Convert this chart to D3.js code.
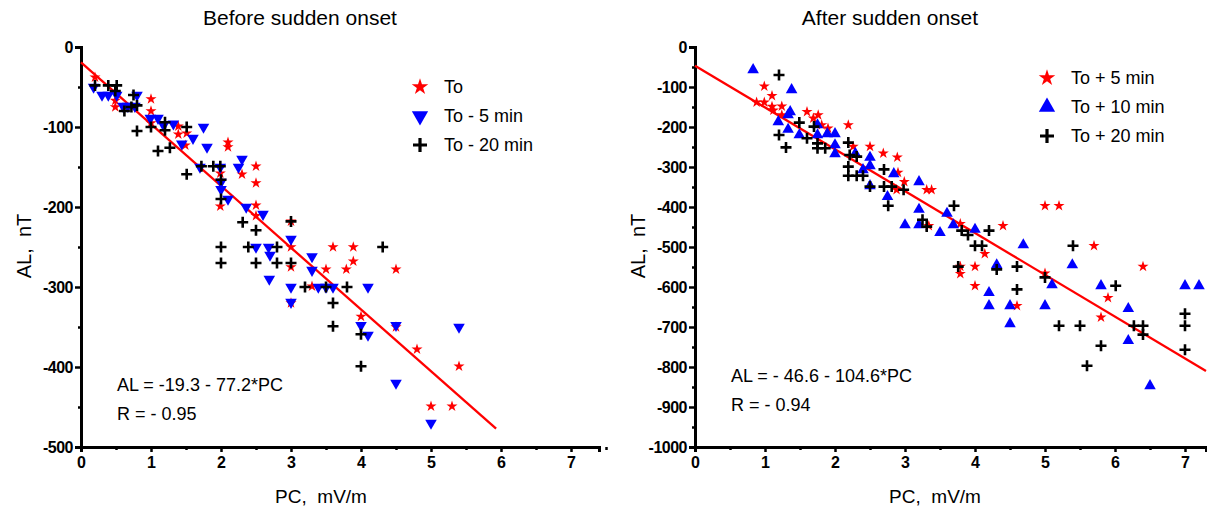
<!DOCTYPE html>
<html>
<head>
<meta charset="utf-8">
<script src="https://cdn.jsdelivr.net/npm/d3@7"></script>
<style>
  body { margin: 0; background: #fff; }
  text { font-family: Arial, "Liberation Sans", sans-serif; white-space: pre; }
</style>
</head>
<body>
<div id="root"></div>
<script>
// PC (mV/m), AL (nT) pairs
var beforeTo = [
  [0.2, -38], [0.49, -67], [0.49, -75], [1.0, -65], [1.0, -80], [1.0, -95],
  [1.39, -99], [1.39, -109], [1.51, -108], [1.49, -123], [2.1, -119], [2.1, -125],
  [1.99, -158], [1.99, -199], [2.3, -159], [2.5, -149], [2.5, -170], [2.5, -198],
  [2.5, -211], [3.0, -218], [3.0, -250], [3.0, -275], [3.6, -250], [3.89, -250],
  [3.89, -268], [3.5, -278], [3.79, -278], [4.5, -278], [3.3, -299], [3.0, -320],
  [4.0, -337], [4.5, -350], [4.8, -378], [5.4, -399], [5.0, -449], [5.3, -449]
]
var beforeTo5 = [
  [0.18, -50], [0.3, -60], [0.39, -60], [0.51, -60], [0.6, -74], [0.67, -74],
  [0.77, -74], [0.8, -60], [0.99, -89], [1.1, -89], [1.18, -98], [1.32, -96],
  [1.44, -121], [1.6, -114], [1.75, -100], [1.8, -125], [1.7, -150], [1.99, -150],
  [2.0, -169], [2.0, -178], [2.1, -190], [2.25, -150], [2.3, -140], [2.36, -200],
  [2.6, -209], [3.0, -240], [2.5, -250], [2.68, -250], [2.7, -260], [2.69, -290],
  [3.3, -262], [3.3, -279], [3.0, -300], [3.39, -300], [3.5, -300], [3.6, -300],
  [4.1, -300], [3.0, -319], [4.0, -348], [4.1, -360], [4.5, -348], [5.4, -350],
  [4.5, -420], [5.0, -470]
]
var beforeTo20 = [
  [0.2, -48], [0.39, -48], [0.51, -48], [0.49, -55], [0.62, -80], [0.75, -60],
  [0.72, -75], [0.8, -73], [0.8, -105], [1.0, -100], [1.2, -94], [1.2, -104],
  [1.1, -130], [1.27, -126], [1.51, -100], [1.51, -159], [1.72, -149], [1.89, -149],
  [1.99, -149], [2.0, -166], [2.0, -190], [2.31, -219], [2.5, -229], [2.0, -250],
  [2.39, -250], [2.8, -250], [2.0, -270], [2.5, -270], [2.8, -270], [3.0, -270],
  [3.0, -218], [4.31, -250], [3.2, -300], [3.5, -300], [3.8, -300], [3.6, -320],
  [3.6, -349], [4.0, -359], [4.0, -399]
]
var afterTo5 = [
  [0.99, -98], [1.1, -122], [0.88, -138], [0.99, -138], [1.1, -149], [1.12, -158],
  [1.24, -148], [1.24, -170], [1.6, -162], [1.69, -178], [1.76, -170], [1.81, -195],
  [1.9, -203], [2.19, -195], [2.26, -249], [2.5, -249], [2.69, -266], [2.89, -276],
  [2.9, -314], [2.99, -337], [2.88, -357], [3.31, -357], [3.38, -357], [3.34, -447],
  [3.79, -442], [4.14, -517], [4.4, -447], [4.0, -549], [3.79, -549], [3.79, -567],
  [4.0, -597], [4.6, -647], [5.0, -397], [5.2, -397], [5.0, -566], [5.7, -497],
  [6.4, -549], [5.9, -627], [5.8, -676]
]
var afterTo10 = [
  [0.83, -57], [1.38, -107], [1.36, -162], [1.33, -170], [1.19, -187], [1.33, -206],
  [1.49, -220], [1.75, -195], [1.75, -220], [1.89, -217], [2.0, -217], [2.0, -245],
  [2.0, -267], [2.29, -266], [2.5, -276], [2.5, -297], [2.4, -307], [2.84, -317],
  [2.5, -347], [2.75, -374], [3.2, -337], [3.2, -406], [3.6, -416], [3.0, -445],
  [3.2, -445], [3.5, -464], [3.69, -445], [4.0, -456], [4.69, -495], [4.31, -545],
  [4.2, -614], [4.2, -647], [4.5, -647], [4.5, -692], [5.0, -647], [5.1, -595],
  [5.39, -545], [5.8, -597], [6.19, -654], [6.19, -734], [6.5, -847], [7.0, -597],
  [7.2, -597]
]
var afterTo20 = [
  [1.2, -70], [1.2, -220], [1.3, -251], [1.49, -189], [1.6, -228], [1.7, -199],
  [1.75, -241], [1.75, -253], [1.86, -253], [2.19, -239], [2.21, -270], [2.31, -274],
  [2.19, -299], [2.19, -322], [2.31, -322], [2.4, -322], [2.5, -349], [2.7, -306],
  [2.7, -349], [2.81, -349], [2.76, -397], [2.98, -357], [3.25, -432], [3.31, -449],
  [3.7, -397], [3.81, -459], [3.9, -470], [4.0, -497], [4.1, -497], [4.2, -459],
  [3.76, -549], [4.31, -556], [4.6, -549], [4.6, -606], [5.0, -576], [5.4, -497],
  [5.2, -697], [5.5, -697], [5.6, -797], [5.8, -747], [6.01, -597], [6.27, -697],
  [6.4, -697], [6.4, -719], [7.0, -667], [7.0, -697], [7.0, -757]
]
var xTicks = [0, 1, 2, 3, 4, 5, 6, 7]
var leftYTicks = [0, -100, -200, -300, -400, -500]
var rightYTicks = [0, -100, -200, -300, -400, -500, -600, -700, -800, -900, -1000]

var width = 1207, height = 513
var svg = d3.select('#root').append('svg')
    .attr('width', width)
    .attr('height', height)

var RED = '#ff0000', BLUE = '#0000ff', BLACK = '#000'

// 画一个符号
function drawMark(g, type, x, y, big) {
    if (type === 'plus') {
        var a = big ? 7 : 5.5
        g.append('path')
            .attr('d', 'M' + (x - a) + ',' + y + 'H' + (x + a) + 'M' + x + ',' + (y - a) + 'V' + (y + a))
            .attr('stroke', BLACK)
            .attr('stroke-width', big ? 3.2 : 2.6)
            .attr('fill', 'none')
    } else if (type === 'star') {
        g.append('path')
            .attr('d', d3.symbol().type(d3.symbolStar).size(big ? 85 : 38)())
            .attr('transform', 'translate(' + x + ',' + y + ')')
            .attr('fill', RED)
    } else {
        var rot = type === 'down' ? 180 : 0
        g.append('path')
            .attr('d', d3.symbol().type(d3.symbolTriangle).size(big ? 115 : 58)())
            .attr('transform', 'translate(' + x + ',' + y + ') rotate(' + rot + ')')
            .attr('fill', BLUE)
    }
}

function fmt(d) { return String(d) }

function panel(cfg) {
    var X = d3.scaleLinear().domain([0, cfg.xMax]).range([cfg.left, cfg.left + 70 * cfg.xMax])
    var Y = d3.scaleLinear().domain([cfg.yMin, 0]).range([447, 47])
    var g = svg.append('g')

    // 坐标轴
    var yAxis = g.append('g').attr('transform', 'translate(' + cfg.left + ',0)')
        .call(d3.axisLeft(Y).tickValues(cfg.yTicks).tickSize(6).tickPadding(2).tickFormat(fmt))
    var yMinor = []
    for (var i = 0; i < cfg.yTicks.length - 1; i++) yMinor.push((cfg.yTicks[i] + cfg.yTicks[i + 1]) / 2)
    g.append('g').attr('transform', 'translate(' + cfg.left + ',0)')
        .call(d3.axisLeft(Y).tickValues(yMinor).tickSize(3).tickFormat(''))
        .select('.domain').remove()
    var xAxis = g.append('g').attr('transform', 'translate(0,447)')
        .call(d3.axisBottom(X).tickValues(xTicks).tickSize(5).tickPadding(5).tickFormat(fmt))
    g.append('g').attr('transform', 'translate(0,447)')
        .call(d3.axisBottom(X).tickValues(xTicks.map(function (d) { return d + 0.5 })).tickSize(3).tickFormat(''))
        .select('.domain').remove()
    g.selectAll('.domain').attr('stroke-width', 3).attr('stroke', BLACK)
    g.selectAll('.tick line').attr('stroke-width', 2.5).attr('stroke', BLACK)
    g.selectAll('.tick text')
        .style('font-family', '"Liberation Sans Narrow", "Arial Narrow", Arial, sans-serif')
        .style('font-size', '16px')
        .style('font-weight', 'bold')
        .attr('fill', BLACK)
    yAxis.selectAll('.tick text').attr('letter-spacing', -0.5)

    // 回归线
    g.append('line')
        .attr('x1', X(0)).attr('y1', Y(cfg.a))
        .attr('x2', X(cfg.lineEnd)).attr('y2', Y(cfg.a + cfg.b * cfg.lineEnd))
        .attr('stroke', RED).attr('stroke-width', 2.3)

    // 数据点
    var pts = g.append('g')
    cfg.series.forEach(function (s) {
        s.data.forEach(function (d) { drawMark(pts, s.type, X(d[0]), Y(d[1]), false) })
    })

    // 图例
    var leg = g.append('g')
    cfg.series.forEach(function (s, i) {
        var ly = cfg.legY + i * 29
        drawMark(leg, s.type, cfg.legX, ly, true)
        leg.append('text').attr('x', cfg.legX + 24).attr('y', ly + 6)
            .attr('font-size', 18).text(s.name)
    })

    // 文字
    g.append('text').attr('x', cfg.titleX).attr('y', 25).attr('text-anchor', 'middle')
        .attr('font-size', 21).text(cfg.title)
    g.append('text').attr('transform', 'translate(' + (cfg.left - 50) + ',246) rotate(-90)')
        .attr('text-anchor', 'middle').attr('font-size', 20).text('AL,  nT')
    g.append('text').attr('x', cfg.left + 240).attr('y', 503).attr('text-anchor', 'middle')
        .attr('font-size', 19).text('PC,  mV/m')
    g.append('text').attr('x', cfg.eqX).attr('y', cfg.eqY).attr('font-size', 18).text(cfg.eq)
    g.append('text').attr('x', cfg.eqX).attr('y', cfg.eqY + 29).attr('font-size', 18).text(cfg.r)
}

panel({
    left: 81, xMax: 7.4, yMin: -500, yTicks: leftYTicks,
    a: -19.3, b: -77.2, lineEnd: 5.93,
    series: [
        { name: 'To', type: 'star', data: beforeTo },
        { name: 'To - 5 min', type: 'down', data: beforeTo5 },
        { name: 'To - 20 min', type: 'plus', data: beforeTo20 }
    ],
    legX: 420, legY: 87,
    title: 'Before sudden onset', titleX: 300,
    eq: 'AL = -19.3 - 77.2*PC', r: 'R = - 0.95', eqX: 117, eqY: 391
})
panel({
    left: 695, xMax: 7.3, yMin: -1000, yTicks: rightYTicks,
    a: -46.6, b: -104.6, lineEnd: 7.3,
    series: [
        { name: 'To + 5 min', type: 'star', data: afterTo5 },
        { name: 'To + 10 min', type: 'up', data: afterTo10 },
        { name: 'To + 20 min', type: 'plus', data: afterTo20 }
    ],
    legX: 1047, legY: 78,
    title: 'After sudden onset', titleX: 890,
    eq: 'AL = - 46.6 - 104.6*PC', r: 'R = - 0.94', eqX: 731, eqY: 382
})
</script>
</body>
</html>
